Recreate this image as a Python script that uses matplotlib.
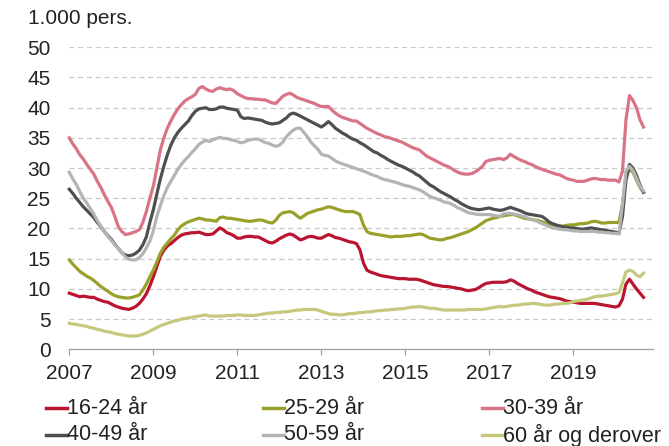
import matplotlib
matplotlib.use("Agg")
import matplotlib.pyplot as plt
from matplotlib.lines import Line2D
import numpy as np

plt.rcParams['font.family'] = ['Liberation Sans', 'DejaVu Sans']

start_year = 2007
labels = ["16-24 år", "25-29 år", "30-39 år", "40-49 år", "50-59 år", "60 år og derover"]
colors = ["#BA1530", "#9AA12B", "#D97487", "#4F4F4F", "#B4B4B4", "#C6C87E"]

# monthly values, 1.000 persons, Jan 2007 - Sep 2020
a16_24 = [
    9.3, 9.1, 8.9, 8.7, 8.8, 8.7, 8.6, 8.6, 8.3, 8.1, 7.9, 7.8,
    7.5, 7.2, 7.0, 6.8, 6.7, 6.6, 6.8, 7.1, 7.6, 8.3, 9.2, 10.5,
    12.0, 13.7, 15.4, 16.4, 17.1, 17.5, 18.0, 18.5, 18.9, 19.1, 19.2, 19.3,
    19.3, 19.4, 19.2, 19.0, 19.0, 19.1, 19.6, 20.1, 19.8, 19.3, 19.1, 18.8,
    18.4, 18.4, 18.6, 18.7, 18.7, 18.6, 18.6, 18.3, 18.0, 17.7, 17.6, 17.9,
    18.3, 18.6, 18.9, 19.1, 18.9, 18.5, 18.1, 18.3, 18.6, 18.7, 18.6, 18.4,
    18.4, 18.7, 19.0, 18.8, 18.5, 18.4, 18.2, 18.0, 17.8, 17.7, 17.5, 16.5,
    14.3, 13.1, 12.8, 12.6, 12.4, 12.2, 12.1, 12.0, 11.9, 11.8, 11.7, 11.7,
    11.7, 11.6, 11.6, 11.6, 11.5, 11.3, 11.1, 10.9, 10.7, 10.6, 10.5, 10.4,
    10.4, 10.3, 10.2, 10.1, 10.0, 9.8, 9.7, 9.8, 9.9, 10.2, 10.6, 10.9,
    11.0, 11.1, 11.1, 11.1, 11.1, 11.2, 11.5, 11.3, 10.9, 10.6, 10.3, 10.0,
    9.8, 9.5, 9.3, 9.1, 8.9, 8.7, 8.6, 8.5, 8.4, 8.2, 8.0, 7.9,
    7.8, 7.7, 7.6, 7.6, 7.6, 7.6, 7.6, 7.5, 7.4, 7.3, 7.2, 7.1,
    7.0, 7.2, 8.3, 10.8, 11.6, 10.8, 10.0, 9.3, 8.6,
]
a25_29 = [
    14.8, 14.1, 13.5, 12.9, 12.5, 12.1, 11.8, 11.4, 10.9, 10.4, 10.0, 9.6,
    9.2, 8.9, 8.7, 8.6, 8.5, 8.5, 8.6, 8.8, 9.0, 9.8, 10.8, 12.0,
    13.1, 14.5, 15.9, 16.9, 17.6, 18.3, 18.9, 19.8, 20.4, 20.8, 21.1, 21.3,
    21.5, 21.7, 21.6, 21.4, 21.4, 21.3, 21.2, 21.8, 21.9, 21.7, 21.7, 21.6,
    21.5, 21.4, 21.3, 21.2, 21.2, 21.3, 21.4, 21.4, 21.2, 21.0, 20.9, 21.4,
    22.2, 22.6, 22.7, 22.8, 22.6, 22.1, 21.7, 22.1, 22.5, 22.7, 22.9, 23.1,
    23.2, 23.4, 23.6, 23.5, 23.3, 23.1, 22.9, 22.8, 22.8, 22.8, 22.6, 22.3,
    20.6, 19.5, 19.2, 19.1, 19.0, 18.9, 18.8, 18.7, 18.6, 18.7, 18.7, 18.7,
    18.8, 18.8, 18.9, 19.0, 19.1, 19.0, 18.7, 18.4, 18.3, 18.2, 18.1, 18.2,
    18.4, 18.5, 18.7, 18.9, 19.1, 19.3, 19.5, 19.8, 20.1, 20.5, 20.9, 21.3,
    21.5, 21.7, 21.8, 22.0, 22.1, 22.2, 22.3, 22.3, 22.1, 21.9, 21.7, 21.6,
    21.5, 21.4, 21.3, 21.1, 20.9, 20.7, 20.6, 20.5, 20.4, 20.4, 20.5, 20.6,
    20.6, 20.7, 20.8, 20.8, 20.9, 21.1, 21.2, 21.1, 20.9, 20.9, 21.0, 21.0,
    21.0, 21.0, 24.0, 28.5, 29.8, 29.3, 28.0, 26.8, 26.0,
]
a30_39 = [
    35.0, 34.0, 33.2, 32.2, 31.5, 30.6, 29.8, 29.0, 27.8, 26.8, 25.6, 24.5,
    23.5, 22.0, 20.3, 19.5, 19.0, 19.1, 19.3, 19.5, 19.8, 21.0, 22.8, 25.0,
    27.0, 30.0, 33.0, 35.0, 36.6, 37.8, 38.9, 39.8, 40.5, 41.1, 41.5, 41.8,
    42.2, 43.2, 43.5, 43.1, 42.8, 42.7, 43.1, 43.3, 43.1, 43.0, 43.1, 42.8,
    42.3, 42.0, 41.7, 41.5, 41.5, 41.4, 41.4, 41.3, 41.3, 41.0, 40.8, 40.7,
    41.3, 41.9, 42.2, 42.4, 42.1, 41.7, 41.5, 41.3, 41.1, 40.9, 40.7, 40.4,
    40.2, 40.2, 40.2, 39.6, 39.1, 38.7, 38.4, 38.2, 38.0, 37.8, 37.8, 37.4,
    37.0, 36.6, 36.3, 36.0, 35.7, 35.5, 35.2, 35.1, 34.9, 34.7, 34.5, 34.3,
    34.0, 33.7, 33.4, 33.2, 33.0, 32.5, 32.0, 31.7, 31.4, 31.1, 30.8, 30.5,
    30.3, 30.0, 29.6, 29.3, 29.1, 29.0, 29.0, 29.1, 29.4, 29.8, 30.3, 31.1,
    31.3, 31.4, 31.5, 31.6, 31.4, 31.7, 32.3, 31.9, 31.6, 31.3, 31.1, 30.8,
    30.6, 30.3, 30.0, 29.8, 29.6, 29.4, 29.2, 29.0, 28.9, 28.6, 28.3, 28.1,
    28.0, 27.8, 27.8, 27.8, 28.0, 28.2, 28.3, 28.2, 28.1, 28.1, 28.0, 28.0,
    28.0, 27.7, 29.5, 38.0, 42.0, 41.2, 40.0, 38.0, 36.8,
]
a40_49 = [
    26.5, 25.8, 25.0, 24.3, 23.6, 23.0, 22.4, 21.8, 21.0, 20.3, 19.5, 18.8,
    18.2, 17.4, 16.7, 16.0, 15.6, 15.5, 15.6, 15.9, 16.4, 17.3, 18.6, 21.0,
    23.1, 25.7, 28.2, 30.3, 32.2, 33.8, 35.0, 35.9, 36.6, 37.2, 37.8, 38.7,
    39.4, 39.8, 39.9, 40.0, 39.7, 39.7, 39.8, 40.1, 40.1, 39.9, 39.8, 39.7,
    39.6, 38.5, 38.2, 38.3, 38.2, 38.1, 38.0, 37.9, 37.6, 37.4, 37.3, 37.4,
    37.5, 37.9, 38.3, 38.9, 39.1, 38.9, 38.6, 38.3, 38.0, 37.7, 37.4, 37.1,
    36.8, 37.2, 37.7, 37.2, 36.6, 36.2, 35.8, 35.5, 35.1, 34.8, 34.6, 34.2,
    33.9, 33.5, 33.1, 32.7, 32.5, 32.1, 31.8, 31.4, 31.1, 30.8, 30.5, 30.3,
    30.0, 29.7, 29.4, 29.0, 28.7, 28.2, 27.7, 27.2, 26.9, 26.5, 26.1, 25.8,
    25.5, 25.2, 24.8, 24.5, 24.1, 23.8, 23.5, 23.3, 23.2, 23.1, 23.2, 23.3,
    23.4, 23.2, 23.1, 23.0, 23.1, 23.3, 23.5, 23.3, 23.1, 22.9, 22.6, 22.4,
    22.3, 22.2, 22.1, 22.0, 21.6, 21.1, 20.8, 20.6, 20.4, 20.3, 20.2, 20.1,
    20.1, 20.0, 19.9, 19.9, 20.0, 20.1, 20.0, 19.9, 19.8, 19.7, 19.6, 19.5,
    19.4, 19.2, 22.0, 28.0, 30.6, 30.0, 28.8, 27.2, 26.0,
]
a50_59 = [
    29.3, 28.2, 27.3, 26.1, 25.0, 24.2, 23.3, 22.4, 21.3, 20.4, 19.5, 18.7,
    18.0, 17.3, 16.7, 16.0, 15.3, 14.9, 14.8, 14.8, 15.2, 15.8, 16.8, 17.9,
    19.6, 22.0, 23.8, 25.4, 26.8, 27.8, 28.8, 29.8, 30.6, 31.3, 31.9, 32.6,
    33.2, 33.9, 34.3, 34.6, 34.4, 34.7, 34.9, 35.1, 34.9, 34.9, 34.7, 34.6,
    34.4, 34.2, 34.3, 34.6, 34.7, 34.8, 34.8, 34.5, 34.2, 34.1, 33.8, 33.6,
    33.8, 34.3, 35.2, 35.8, 36.3, 36.6, 36.6, 35.9, 35.2, 34.3, 33.7, 33.1,
    32.3, 32.1, 32.0, 31.6, 31.2, 30.9, 30.7, 30.5, 30.3, 30.1, 29.9, 29.7,
    29.5, 29.3, 29.0, 28.8, 28.6, 28.3, 28.1, 28.0, 27.8, 27.7, 27.5, 27.3,
    27.1, 27.0, 26.8, 26.6, 26.4, 26.1, 25.7, 25.3, 25.1, 24.9, 24.7, 24.4,
    24.3, 24.1, 23.8, 23.4, 23.2, 22.9, 22.6, 22.5, 22.4, 22.3, 22.3, 22.3,
    22.3, 22.2, 22.1, 22.0, 22.4, 22.5, 22.5, 22.4, 22.3, 22.1, 22.0, 21.7,
    21.5, 21.3, 21.1, 20.8, 20.6, 20.3, 20.1, 20.0, 19.9, 19.8, 19.8, 19.7,
    19.6, 19.6, 19.5, 19.5, 19.5, 19.5, 19.5, 19.4, 19.4, 19.3, 19.3, 19.2,
    19.2, 19.1, 24.0, 29.5, 30.3, 29.6, 28.3, 27.0, 26.2,
]
a60_plus = [
    4.3, 4.2, 4.1, 4.0, 3.9, 3.8, 3.6, 3.5, 3.3, 3.2, 3.0, 2.9,
    2.8, 2.6, 2.5, 2.4, 2.3, 2.2, 2.2, 2.2, 2.3, 2.5, 2.7, 3.0,
    3.3, 3.6, 3.9, 4.1, 4.3, 4.5, 4.7, 4.8, 5.0, 5.1, 5.2, 5.3,
    5.4, 5.5, 5.6, 5.7, 5.5, 5.5, 5.5, 5.5, 5.5, 5.6, 5.6, 5.6,
    5.7, 5.7, 5.6, 5.6, 5.6, 5.6, 5.7, 5.8, 5.9, 6.0, 6.0, 6.1,
    6.1, 6.2, 6.2, 6.3, 6.4, 6.5, 6.5, 6.6, 6.6, 6.6, 6.6, 6.5,
    6.3, 6.1, 5.9, 5.8, 5.8, 5.7, 5.7, 5.8, 5.9, 5.9, 6.0, 6.1,
    6.1, 6.2, 6.2, 6.3, 6.4, 6.4, 6.5, 6.5, 6.6, 6.6, 6.7, 6.7,
    6.8, 6.9, 7.0, 7.0, 7.1, 7.0, 6.9, 6.8, 6.8, 6.7, 6.6, 6.5,
    6.5, 6.5, 6.5, 6.5, 6.5, 6.5, 6.6, 6.6, 6.6, 6.6, 6.6, 6.7,
    6.8, 6.9, 7.0, 7.1, 7.0, 7.1, 7.2, 7.3, 7.3, 7.4, 7.5, 7.5,
    7.6, 7.6, 7.5, 7.4, 7.3, 7.3, 7.4, 7.5, 7.5, 7.6, 7.6, 7.7,
    7.9, 8.0, 8.1, 8.2, 8.3, 8.5, 8.7, 8.8, 8.8, 8.9, 9.0, 9.1,
    9.2, 9.4, 11.0, 12.8, 13.1, 12.9, 12.3, 12.0, 12.6,
]
series = [a16_24, a25_29, a30_39, a40_49, a50_59, a60_plus]

y_ticks = [0, 5, 10, 15, 20, 25, 30, 35, 40, 45, 50]
x_ticks = [2007, 2009, 2011, 2013, 2015, 2017, 2019]

W, H = 669, 446
fig = plt.figure(figsize=(W / 100, H / 100), dpi=100)
ax = fig.add_axes([0.1036, 0.2168, 0.8729, 0.6772])

n = len(a16_24)
t = start_year + np.arange(n) / 12.0

for yv in y_ticks:
    ax.axhline(yv, color="#c8c8c8", lw=0.9, ls=(0, (4, 3)), zorder=1)

for vals, lab, col in zip(series, labels, colors):
    ax.plot(t, vals, color=col, lw=2.3, label=lab, zorder=3, clip_on=False,
            solid_joinstyle="round")

ax.set_xlim(2007, 2020.9)
ax.set_ylim(0, 50)
ax.set_yticks(y_ticks)
ax.set_xticks(x_ticks)
ax.tick_params(axis="y", length=0, pad=13.5, labelsize=15, labelcolor="#222222")
ax.tick_params(axis="x", length=4.5, width=0.9, color="#a0a0a0", pad=6, labelsize=15,
               labelcolor="#222222", direction="out")
for s in ["top", "right", "left"]:
    ax.spines[s].set_visible(False)
ax.spines["bottom"].set_color("#a0a0a0")
ax.spines["bottom"].set_linewidth(0.9)

fig.text(28 / W, 1 - 18 / H, "1.000 pers.", fontsize=15, color="#222222",
         ha="left", va="center")

# legend laid out in a 2 x 3 grid (row-major order)
col_x = [46, 263, 482]
row_y = [408, 435]
for i, (lab, col) in enumerate(zip(labels, colors)):
    r, c = divmod(i, 3)
    x0 = col_x[c]
    y0 = row_y[r]
    fig.add_artist(Line2D([x0 / W, (x0 + 21) / W], [1 - y0 / H, 1 - y0 / H],
                          color=col, lw=2.5, transform=fig.transFigure))
    fig.text((x0 + 21) / W, 1 - y0 / H, lab, fontsize=15.5, color="#222222",
             ha="left", va="center")

fig.savefig("out.png", dpi=100)
